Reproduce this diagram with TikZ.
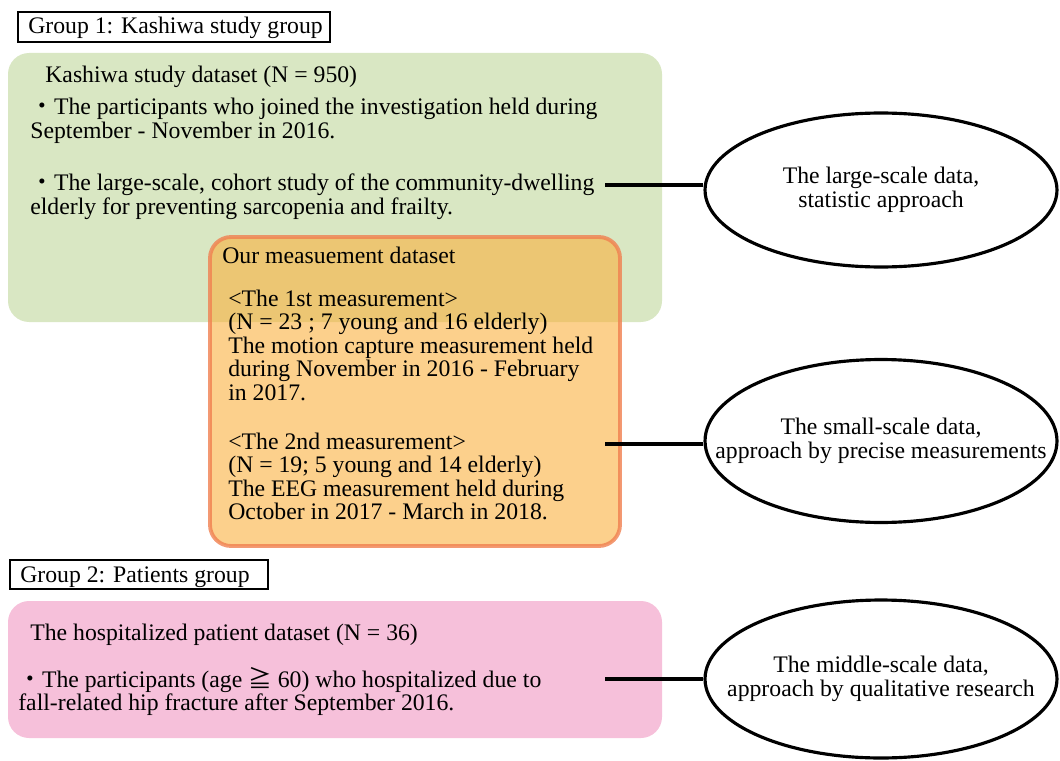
\documentclass[tikz,border=0pt]{standalone}
\usepackage{fontspec}
\setmainfont{Liberation Serif}
\newfontfamily\cjk{Noto Sans CJK JP}
\usetikzlibrary{shapes.geometric,positioning}
\definecolor{kgreen}{RGB}{217,231,195}
\definecolor{morange}{RGB}{250,177,63}
\definecolor{mborder}{RGB}{240,128,80}
\definecolor{ppink}{RGB}{246,192,218}
\newcommand{\mdot}{{\cjk ・}}
\newcommand{\tlines}[1]{\begin{tabular}[t]{@{}l@{}}#1\end{tabular}}
\begin{document}
\begin{tikzpicture}[x=0.02cm,y=-0.02cm,
  every node/.style={font=\fontsize{13.5}{13.4}\selectfont},
  txt/.style={anchor=base west,inner sep=0pt},
  groupbox/.style={draw=black,line width=1.6pt,fill=white},
  datanote/.style={ellipse,draw=black,line width=1.8pt,minimum width=7.04cm,align=center,inner xsep=-3cm,inner ysep=-1cm},
  link/.style={line width=2.2pt}]
  \useasboundingbox (0,0) rectangle (1060,760);
  % Group 1
  \draw[groupbox] (18,12) rectangle (330,42);
  \node[txt] (g1) at (28,34) {Group 1: Kashiwa study group};
  \fill[kgreen,rounded corners=12] (8,53) rectangle (662,322);
  \node[txt] (kt) at (45,83) {Kashiwa study dataset (N = 950)};
  \node[txt] (ka) at (30,115) {\tlines{\mdot The participants who joined the investigation held during\\September - November in 2016.}};
  \node[txt] (kb) at (30,191) {\tlines{\mdot The large-scale, cohort study of the community-dwelling\\elderly for preventing sarcopenia and frailty.}};
  % our measurement dataset
  \draw[fill=morange,fill opacity=0.6,draw=mborder,draw opacity=0.8,line width=2.2pt,rounded corners=12] (210,237) rectangle (620,546);
  \node[txt] (mt) at (222,263) {Our measuement dataset};
  \node[txt] (m1) at (228,306) {\tlines{<The 1st measurement>\\(N = 23 ; 7 young and 16 elderly)\\The motion capture measurement held\\during November in 2016 - February\\in 2017.}};
  \node[txt] (m2) at (228,449) {\tlines{<The 2nd measurement>\\(N = 19; 5 young and 14 elderly)\\The EEG measurement held during\\October in 2017 - March in 2018.}};
  % Group 2
  \draw[groupbox] (10,560) rectangle (268,589);
  \node[txt] (g2) at (20,582) {Group 2: Patients group};
  \fill[ppink,rounded corners=12] (8,601) rectangle (662,738);
  \node[txt] (pt) at (30,640) {The hospitalized patient dataset (N = 36)};
  \node[txt] (pa) at (18,687) {\tlines{\mdot The participants (age {\cjk ≧} 60) who hospitalized due to\\fall-related hip fracture after September 2016.}};
  % approaches
  \node[datanote,minimum height=3.08cm] (e1) at (881,190) {The large-scale data,\\ statistic approach};
  \node[datanote,minimum height=3.26cm] (e2) at (881,441) {The small-scale data,\\approach by precise measurements};
  \node[datanote,minimum height=3.16cm] (e3) at (881,679) {The middle-scale data,\\approach by qualitative research};
  \coordinate (c1) at (605,185);
  \coordinate (c2) at (605,444);
  \coordinate (c3) at (605,679);
  \draw[link] (c1) -- (c1 -| e1.west);
  \draw[link] (c2) -- (c2 -| e2.west);
  \draw[link] (c3) -- (c3 -| e3.west);
\end{tikzpicture}
\end{document}
